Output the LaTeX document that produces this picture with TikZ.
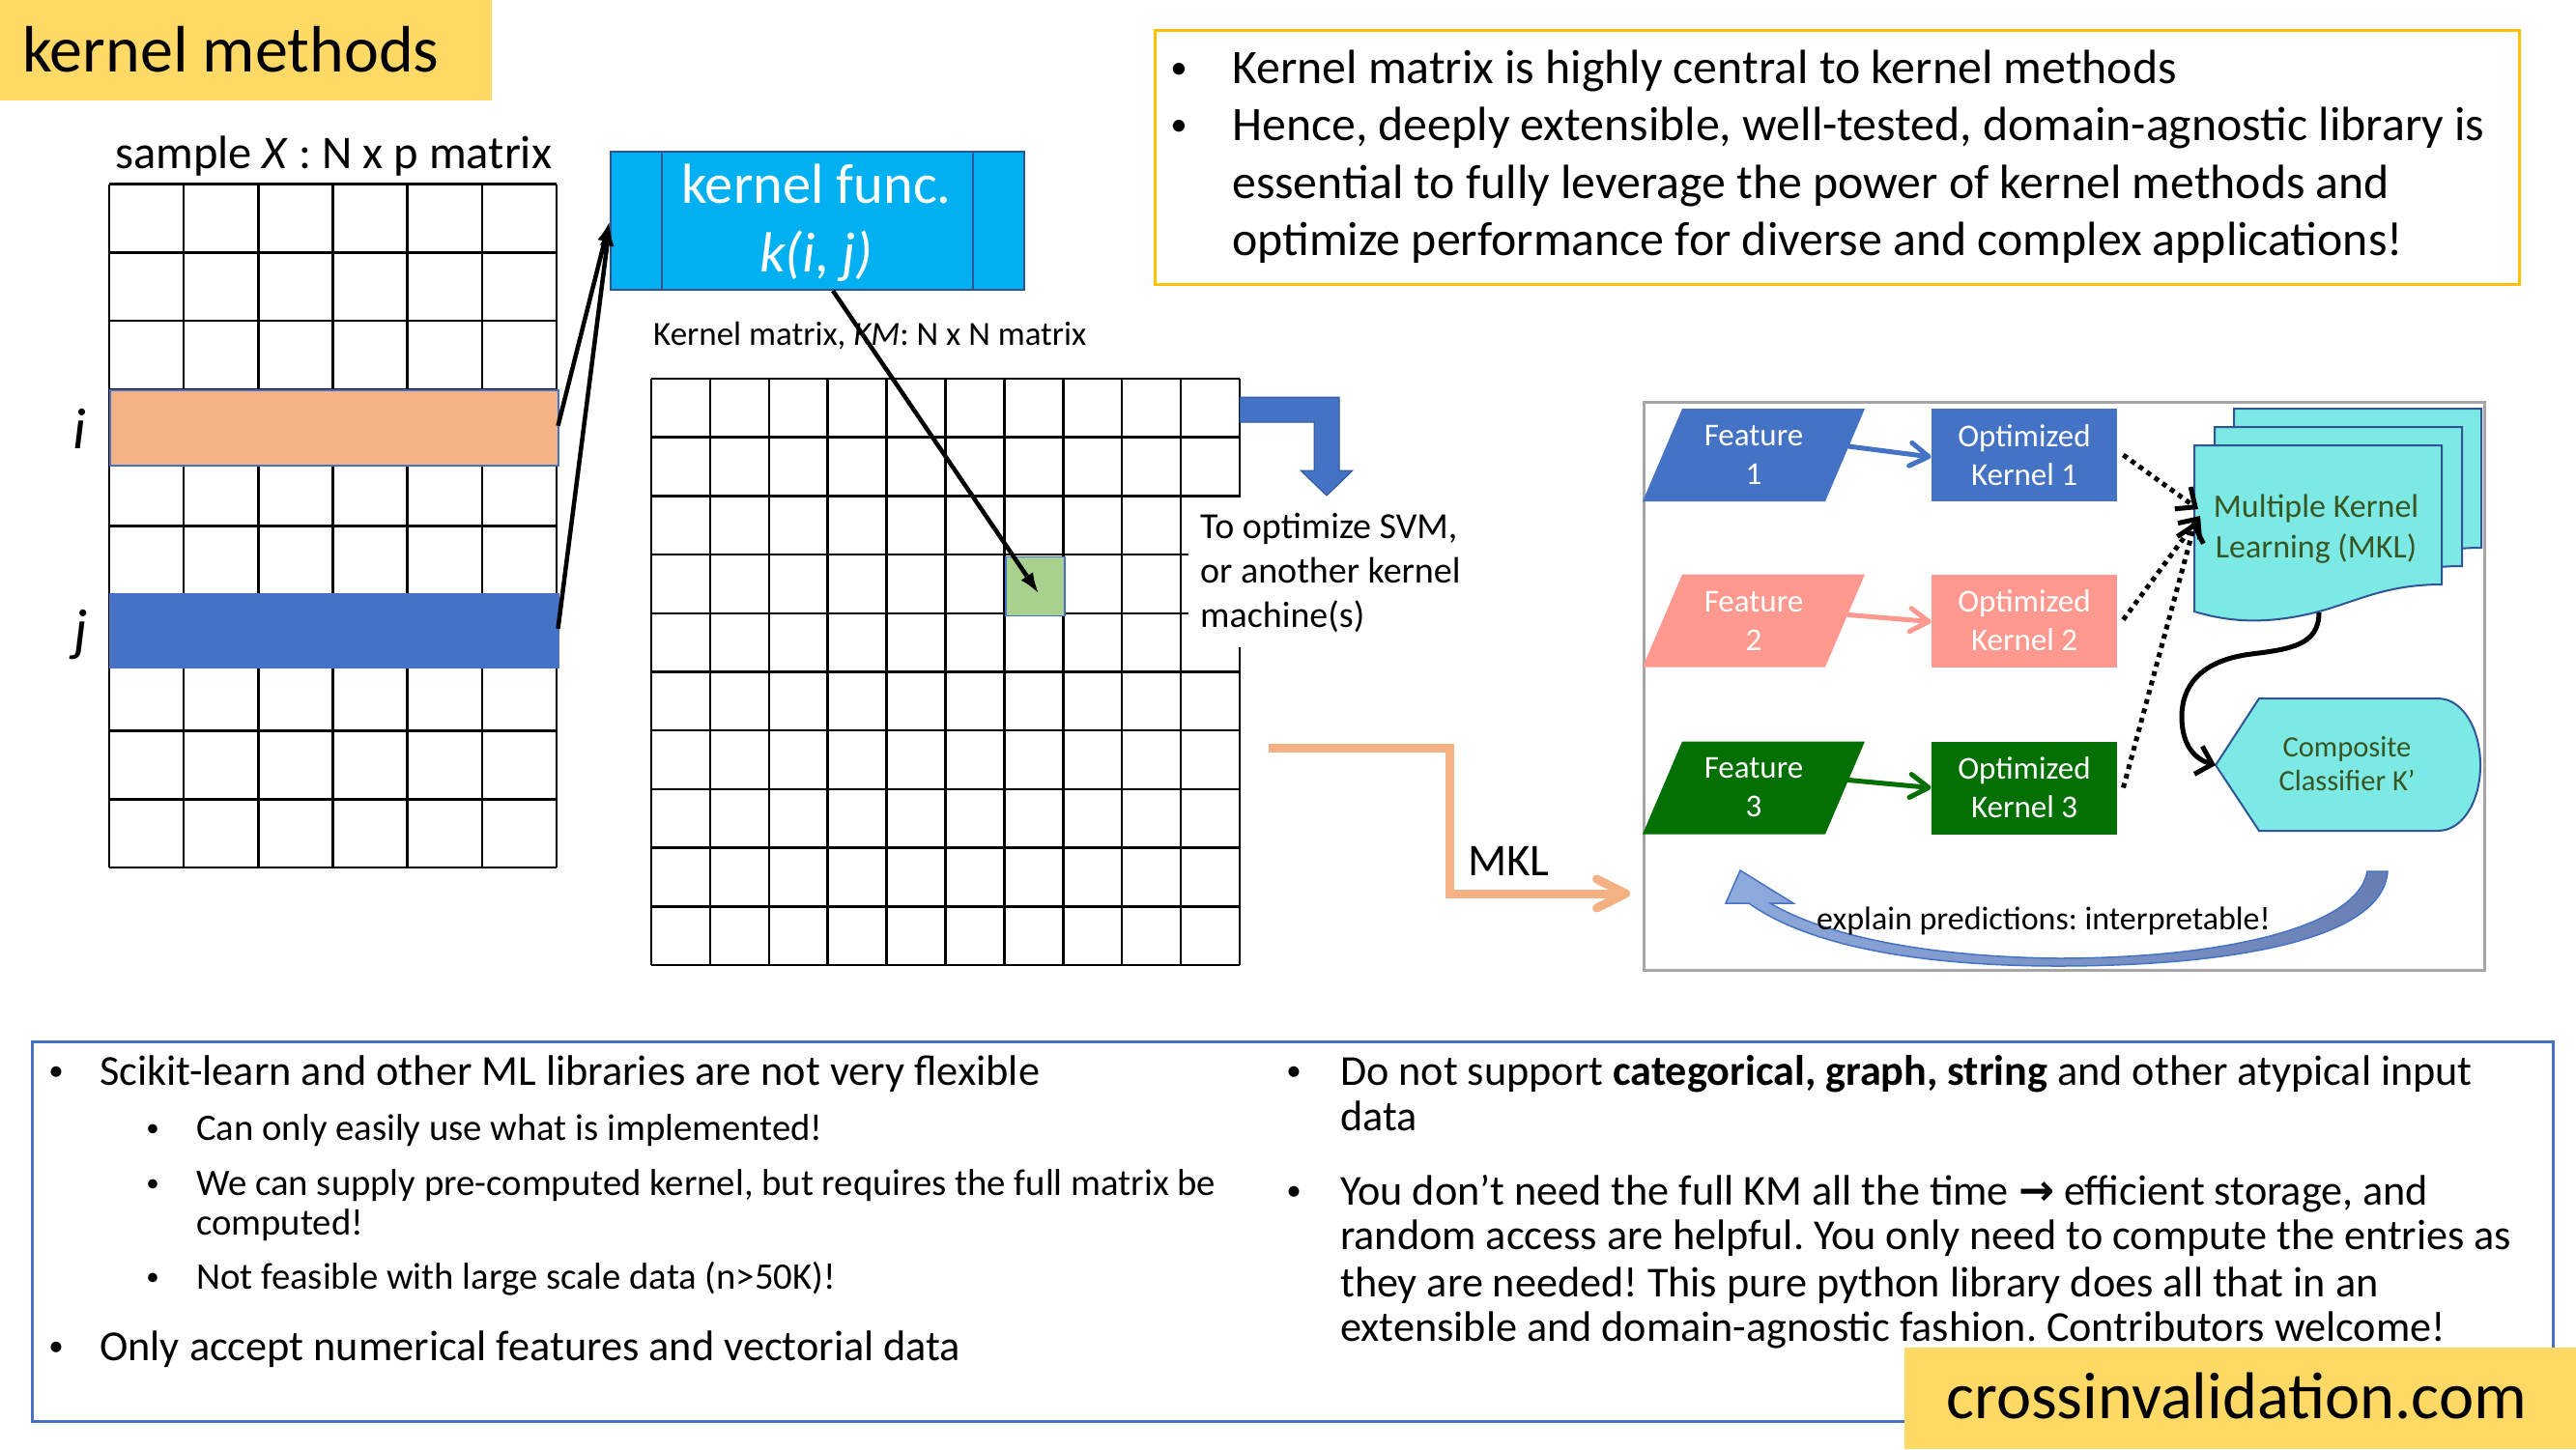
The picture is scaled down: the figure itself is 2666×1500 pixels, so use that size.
\documentclass[tikz,border=0pt]{standalone}
\usepackage{fontspec}
\setmainfont{Carlito}
\newfontfamily\dejavu{DejaVu Sans}
\usetikzlibrary{arrows.meta,calc}
\frenchspacing
\definecolor{ttlyellow}{RGB}{255,217,102}
\definecolor{rowor}{RGB}{244,177,131}
\definecolor{rowbl}{RGB}{68,114,196}
\definecolor{kfcyan}{RGB}{0,176,240}
\definecolor{kfborder}{RGB}{47,85,151}
\definecolor{cellgreen}{RGB}{169,209,142}
\definecolor{featpink}{RGB}{255,153,143}
\definecolor{featgreen}{RGB}{4,112,4}
\definecolor{mklcyan}{RGB}{125,233,228}
\definecolor{mkltext}{RGB}{55,86,35}
\definecolor{panelgray}{RGB}{166,166,166}
\definecolor{boxgold}{RGB}{255,192,0}
\definecolor{curveL}{RGB}{143,170,220}
\definecolor{curveR}{RGB}{105,127,180}
\newcommand\myfs[1]{\fontsize{#1}{#1}\selectfont}
\begin{document}
\frenchspacing
\begin{tikzpicture}[x=1pt,y=-1pt,
  txt/.style={inner sep=0pt, anchor=base west},
  ctxt/.style={inner sep=0pt, anchor=base},
  bul/.style n args={2}{inner sep=0pt, anchor=base, font=\myfs{#1}, yshift=#2},
  gridline/.style={line width=2.5pt},
  blkarrow/.style={line width=4.5pt, -{Latex[length=22pt,width=15pt]}},
  farrow/.style={line width=5pt, line cap=round, -{Straight Barb[round,length=19pt,width=24pt]}},
  dotarrow/.style={line width=5pt, dash pattern=on 5pt off 5pt, -{Straight Barb[length=16pt,width=28pt]}},
  kbox/.style={minimum width=192.5pt, minimum height=96pt, inner sep=0pt, align=center, text=white, font=\fontsize{33}{40}\selectfont},
  ftxt/.style={inner sep=0pt, align=center, text=white, font=\fontsize{33}{40}\selectfont},
  page/.style={fill=mklcyan, draw=kfborder, line width=2pt}
]
\fill[white] (0,0) rectangle (2666,1500);
\useasboundingbox (0,0) rectangle (2666,1500);

% title
\node[fill=ttlyellow, minimum width=509pt, minimum height=104pt, inner sep=0pt, anchor=north west] (ttl) at (0,0) {};
\node[txt, font=\myfs{68}] (ttltext) at (23,74) {kernel methods};

% sample matrix
\node[txt, font=\myfs{48.5}] (xlab) at (119,174) {sample \textit{X} : N x p matrix};
\foreach \k in {0,...,10} \draw[gridline] (113,{190.6+70.74*\k}) -- (576,{190.6+70.74*\k});
\foreach \k in {0,...,6} \draw[gridline] ({113+77.17*\k},190.6) -- ({113+77.17*\k},898);
\node[fill=rowor, draw=rowbl, line width=1.5pt, minimum width=464pt, minimum height=78pt, inner sep=0pt, anchor=north west] (orow) at (113,403) {};
\node[fill=rowbl, draw=rowbl, line width=1.5pt, minimum width=464pt, minimum height=76pt, inner sep=0pt, anchor=north west] (brow) at (113,614) {};
\node[ctxt, font=\myfs{60}\itshape] (ilab) at (82,464) {i};
\node[ctxt, font=\myfs{60}\itshape] (jlab) at (84,672) {j};

% kernel function box
\node[fill=kfcyan, draw=kfborder, line width=2pt, minimum width=428pt, minimum height=143pt, inner sep=0pt, anchor=north west] (kf) at (631,156) {};
\draw[kfborder, line width=2pt] ($(kf.north west)+(54,0)$) -- ($(kf.south west)+(54,0)$);
\draw[kfborder, line width=2pt] ($(kf.north east)+(-54,0)$) -- ($(kf.south east)+(-54,0)$);
\node[ctxt, text=white, font=\myfs{58.5}] (kft1) at (845,210) {kernel func.};
\node[ctxt, text=white, font=\myfs{58.5}\itshape] (kft2) at (845,281) {k(i, j)};

\draw[blkarrow] ($(orow.east)+(-1,-2)$) -- ($(kf.west)+(0,0)$);
\draw[blkarrow] ($(brow.east)+(-1,-2)$) -- ($(kf.west)+(0,4)$);

% kernel matrix
\node[txt, font=\myfs{35}] (kmlab) at (676,357) {Kernel matrix, \textit{KM}: N x N matrix};
\foreach \k in {0,...,10} \draw[gridline] (674,{392+60.7*\k}) -- (1283,{392+60.7*\k});
\foreach \k in {0,...,10} \draw[gridline] ({674+60.9*\k},392) -- ({674+60.9*\k},999);
\node[fill=cellgreen, draw=rowbl, line width=1.5pt, minimum width=61pt, minimum height=61pt, inner sep=0pt, anchor=north west] (gcell) at (1040,575.5) {};
\fill[white] (1230,515) rectangle (1560,670);
\draw[blkarrow] ($(kf.south)+(16,0)$) -- ($(gcell.center)+(4,8)$);

% blue bent arrow
\filldraw[fill=rowbl, draw=kfborder, line width=1pt] (1283,411) -- (1386,411) -- (1386,487) -- (1400,487) -- (1373,513) -- (1346,487) -- (1360,487) -- (1360,437) -- (1283,437) -- cycle;
\node[txt, font=\myfs{38}] (svm1) at (1242,557) {To optimize SVM,};
\node[txt, font=\myfs{38}] (svm2) at (1242,603) {or another kernel};
\node[txt, font=\myfs{38}] (svm3) at (1242,649) {machine(s)};

% MKL connector
\coordinate (mklstart) at (1313,774);
\coordinate (mklend) at (1687,925);
\draw[rowor, line width=9pt, -{Straight Barb[round,length=30pt,width=30pt]}] (mklstart) -- (1500,774) -- (1500,925) -- (mklend);
\node[txt, font=\myfs{47}] (mkllab) at (1519,906) {MKL};

% panel
\node[draw=panelgray, line width=3pt, minimum width=870pt, minimum height=588pt, inner sep=0pt, anchor=north west] (panel) at (1700,415) {};

% features
\fill[rowbl] (1741,423) -- (1930,423) -- (1889,519) -- (1700,519) -- cycle;
\fill[featpink] (1741,594.5) -- (1930,594.5) -- (1889,690.5) -- (1700,690.5) -- cycle;
\fill[featgreen] (1741,767.5) -- (1930,767.5) -- (1889,863.5) -- (1700,863.5) -- cycle;
\node[ftxt] (f1) at (1815,471) {Feature\\1};
\node[ftxt] (f2) at (1815,642.5) {Feature\\2};
\node[ftxt] (f3) at (1815,815.5) {Feature\\3};
\node[kbox, fill=rowbl] (k1) at (2095,471) {Optimized\\Kernel 1};
\node[kbox, fill=featpink] (k2) at (2095,642.5) {Optimized\\Kernel 2};
\node[kbox, fill=featgreen] (k3) at (2095,815.5) {Optimized\\Kernel 3};
\draw[farrow, rowbl] ($(f1)+(98,-9)$) -- ($(k1.west)+(0,2)$);
\draw[farrow, featpink] ($(f2)+(98,-6)$) -- ($(k2.west)+(0,1)$);
\draw[farrow, featgreen] ($(f3)+(98,-8)$) -- ($(k3.west)+(0,0)$);

% MKL pages
\newcommand\mklpage{(2271,461) -- (2527,461) -- (2527,605) .. controls (2470,605) and (2440,622) .. (2400,633) .. controls (2350,646) and (2310,645) .. (2271,633) -- cycle}
\filldraw[page, shift={(41,-38)}] \mklpage;
\filldraw[page, shift={(21,-19)}] \mklpage;
\filldraw[page] \mklpage;
\node[ctxt, text=mkltext, font=\myfs{34}] (mklt1) at (2397,535) {Multiple Kernel};
\node[ctxt, text=mkltext, font=\myfs{34}] (mklt2) at (2397,577) {Learning (MKL)};
\coordinate (mklin1) at (2275,527);
\coordinate (mklin2) at (2277,534);
\coordinate (mklin3) at (2272,540);
\draw[dotarrow] ($(k1.east)+(6,0)$) -- (mklin1);
\draw[dotarrow] ($(k2.east)+(6,-1)$) -- (mklin2);
\draw[dotarrow] ($(k3.east)+(6,0)$) -- (mklin3);

% composite classifier
\filldraw[page] (2293,792) -- (2338,723) -- (2523,723) .. controls (2549,723) and (2567,755) .. (2567,792) .. controls (2567,829) and (2549,860) .. (2523,860) -- (2338,860) -- cycle;
\coordinate (compin) at (2293,792);
\coordinate (mklout) at (2400,634);
\node[ctxt, text=mkltext, font=\myfs{30.5}] (comp1) at (2429,783) {Composite};
\node[ctxt, text=mkltext, font=\myfs{30.5}] (comp2) at (2429,818) {Classifier K’};
\draw[line width=5pt, -{Straight Barb[length=15pt,width=30pt]}] (mklout) .. controls (2400,668) and (2370,672) .. (2330,677) .. controls (2275,684) and (2258,712) .. (2258,742) .. controls (2258,772) and (2272,786) .. (compin);

% explain curved arrow
\shadedraw[left color=curveL, right color=curveR, draw=rowbl, line width=1.5pt]
  (1801,901) -- (1856,935) -- (1832,935)
  .. controls (1900,975) and (2020,991) .. (2130,992)
  .. controls (2300,992) and (2440,960) .. (2450,902)
  -- (2471,902)
  .. controls (2466,975) and (2300,1000) .. (2130,1000)
  .. controls (2010,1000) and (1880,985) .. (1810,935)
  -- (1786,935) -- cycle;
\node[txt, font=\myfs{34}] (expl) at (1880,962) {explain predictions: interpretable!};

% top right box
\node[draw=boxgold, line width=3pt, minimum width=1412pt, minimum height=263pt, inner sep=0pt, anchor=north west] (topbox) at (1194,30) {};
\node[bul={35}{5pt}] (tb1) at (1220,86) {•};
\node[txt, font=\myfs{49.8}] (tt1) at (1275,86) {Kernel matrix is highly central to kernel methods};
\node[bul={35}{5pt}] (tb2) at (1220,145.5) {•};
\node[txt, font=\myfs{49.8}] (tt2) at (1275,145.5) {Hence, deeply extensible, well-tested, domain-agnostic library is};
\node[txt, font=\myfs{49.8}] (tt3) at (1275,205) {essential to fully leverage the power of kernel methods and};
\node[txt, font=\myfs{49.8}] (tt4) at (1275,264.5) {optimize performance for diverse and complex applications!};

% bottom box
\node[draw=rowbl, line width=3pt, minimum width=2609pt, minimum height=393pt, inner sep=0pt, anchor=north west] (botbox) at (32,1077) {};
\node[bul={31}{4.4pt}] (lb1) at (58,1123) {•};
\node[txt, font=\myfs{44.3}] (lt1) at (103,1123) {Scikit-learn and other ML libraries are not very flexible};
\node[bul={27}{3.9pt}] (lb2) at (158,1180) {•};
\node[txt, font=\myfs{38.7}] (lt2) at (203,1180) {Can only easily use what is implemented!};
\node[bul={27}{3.9pt}] (lb3) at (158,1237) {•};
\node[txt, font=\myfs{38.7}] (lt3) at (203,1237) {We can supply pre-computed kernel, but requires the full matrix be};
\node[txt, font=\myfs{38.7}] (lt4) at (203,1278) {computed!};
\node[bul={27}{3.9pt}] (lb4) at (158,1334) {•};
\node[txt, font=\myfs{38.7}] (lt5) at (203,1334) {Not feasible with large scale data (n>50K)!};
\node[bul={31}{4.4pt}] (lb5) at (58,1408) {•};
\node[txt, font=\myfs{44.3}] (lt6) at (103,1408) {Only accept numerical features and vectorial data};

\node[bul={31}{4.4pt}] (rb1) at (1339,1123) {•};
\node[txt, font=\myfs{44.2}] (rt1) at (1387,1123) {Do not support \textbf{categorical, graph, string} and other atypical input};
\node[txt, font=\myfs{44.2}] (rt2) at (1387,1170) {data};
\node[bul={31}{4.4pt}] (rb2) at (1339,1247) {•};
\node[txt, font=\myfs{44.2}] (rt3) at (1387,1247) {You don’t need the full KM all the time {\dejavu\bfseries →} efficient storage, and};
\node[txt, font=\myfs{44.2}] (rt4) at (1387,1293) {random access are helpful. You only need to compute the entries as};
\node[txt, font=\myfs{44.2}] (rt5) at (1387,1342) {they are needed! This pure python library does all that in an};
\node[txt, font=\myfs{44.2}] (rt6) at (1387,1388) {extensible and domain-agnostic fashion. Contributors welcome!};

% footer
\node[fill=ttlyellow, minimum width=695pt, minimum height=105pt, inner sep=0pt, anchor=north west] (cvbox) at (1971,1395) {};
\node[txt, font=\myfs{68.5}] (cvtext) at (2014,1468) {crossinvalidation.com};
\end{tikzpicture}
\end{document}
